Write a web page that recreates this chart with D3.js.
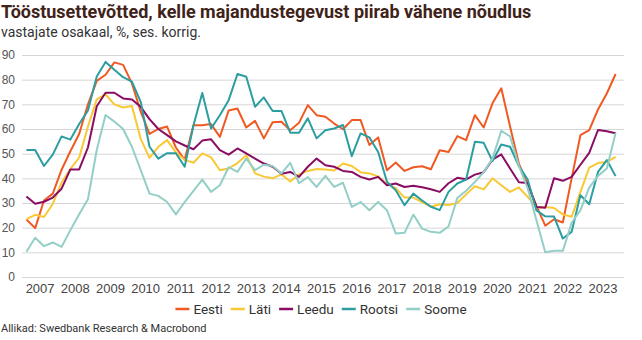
<!DOCTYPE html>
<html lang="et">
<head>
<meta charset="UTF-8">
<title>Tööstusettevõtted, kelle majandustegevust piirab vähene nõudlus</title>
<style>
  body { margin: 0; background: #fff; }
  svg { display: block; font-family: Roboto, "Noto Sans", sans-serif; }
  .grid line { stroke: #d6d6d6; stroke-width: 1; }
  .grid text { fill: #555; font-size: 12px; }
  .years text { fill: #444; font-size: 13px; }
  .series { fill: none; stroke-width: 2; stroke-linejoin: round; }
  .legend text { fill: #333; font-size: 13.5px; }
</style>
</head>
<body>
<svg id="chart" width="642" height="340"></svg>
<script src="https://d3js.org/d3.v7.min.js"></script>
<script>
// quarterly survey, 2007 Q1 .. 2023 Q4
const firstYear = 2007;
const years = [2007, 2008, 2009, 2010, 2011, 2012, 2013, 2014, 2015,
               2016, 2017, 2018, 2019, 2020, 2021, 2022, 2023];
const yTicks = [0, 10, 20, 30, 40, 50, 60, 70, 80, 90];

const eesti = [23.3, 19.8, 31, 33.8, 43.5, 51, 58, 70,
  79.5, 82, 87, 86, 78.5, 67, 58, 60,
  61, 52.5, 47.5, 61.5, 61.5, 62, 56.8, 67.5,
  68.3, 60.6, 63.3, 56.2, 62.7, 62.9, 59.5, 62.5,
  69.7, 65.6, 65, 62.2, 59.9, 63.6, 63.6, 53.5,
  56.6, 43.3, 46.4, 43, 44.5, 44.9, 43.7, 51.4,
  50.7, 57.1, 55.5, 65.6, 60.6, 70.4, 76.5, 61,
  46, 37.6, 28.8, 20.8, 23.4, 22.1, 40, 57.5,
  59.5, 67.9, 74.4, 82.3];

const lati = [23.5, 25.2, 24.3, 29.6, 38.3, 43.8, 48.4, 61,
  72, 74, 70, 68.7, 69.3, 56, 48.3, 52.8,
  55.5, 50.5, 47.5, 46.3, 50.1, 48.5, 43.3, 44,
  46.2, 49.4, 42, 40.7, 40, 41.6, 38.7, 41.6,
  43, 43.8, 43.6, 43.2, 46, 45, 42.5, 42,
  40.8, 37.6, 36, 32.2, 32.2, 30.4, 28.5, 29.5,
  29.2, 30, 33.5, 36.8, 35.5, 40, 37.2, 34.5,
  36.3, 32.5, 28.3, 28.4, 28, 25.4, 24.4, 34.5,
  44.3, 46.2, 46.6, 48.7];

const leedu = [32.6, 29.7, 30.5, 32.2, 35.8, 43.6, 43.6, 52.5,
  69.2, 74.7, 74.7, 72.4, 72, 69, 64, 60,
  57.5, 55, 53.3, 51.8, 55.3, 55.8, 51.4, 49.6,
  52.1, 50.1, 48, 46, 44.7, 41.9, 42.6, 40.6,
  44.7, 48, 45.3, 44.7, 43, 42.6, 40.6, 39.5,
  40.6, 37.2, 37.9, 36.5, 37, 36.4, 35.6, 34.5,
  38, 40.2, 39.6, 41.5, 42.5, 47.6, 49.7, 44,
  38.4, 38.1, 28.4, 28.1, 40, 39, 40.6, 45.5,
  50.3, 59.6, 59.1, 58.3];

const rootsi = [51.5, 51.5, 45, 49.6, 57, 55.7, 62, 67.5,
  81.3, 87.2, 84, 81, 79.2, 71, 52.8, 48,
  50.2, 50.2, 44.7, 61.5, 74.6, 60.2, 65.6, 71.7,
  82.3, 81.2, 69, 72.8, 67.3, 67.3, 58.5, 58.5,
  64.3, 56.2, 59.5, 60.2, 61.6, 49, 58.2, 56.6,
  50.7, 38.6, 35.2, 29.1, 33.8, 31, 28.5, 27.1,
  34.5, 37.9, 39.5, 54.8, 54.4, 47, 53.7, 52.8,
  45, 39.5, 27, 24.6, 24.5, 15.6, 18.3, 33.2,
  29.5, 42.6, 47.4, 40.9];

const soome = [10.2, 15.9, 12.5, 14, 12.2, 19, 25.4, 31.5,
  51.5, 65.7, 63, 60, 52.8, 43.3, 33.8, 32.9,
  30.4, 25.4, 30.4, 34.9, 39.5, 34.5, 37.2, 44.5,
  42.6, 48, 43.3, 45.5, 45, 42, 46.3, 38,
  40.5, 36.5, 41, 36.5, 38.2, 28.4, 30.4, 27.1,
  30.4, 27.1, 17.6, 17.9, 25.3, 19.6, 18.3, 17.9,
  20.5, 32, 35, 38.5, 42.5, 48, 59.3, 57,
  45, 36, 23, 10, 10.6, 10.6, 22, 27.1,
  36.2, 41, 44, 58.4];

const names = ["Eesti", "Läti", "Leedu", "Rootsi", "Soome"];
const colors = ["#f05a22", "#f9c835", "#8a0c63", "#2c9da0", "#93cfc6"];
const values = [eesti, lati, leedu, rootsi, soome];

const svg = d3.select("#chart");

const x = d3.scaleLinear().domain([firstYear, 2024]).range([22, 620]);
const y = d3.scaleLinear().domain([0, 90]).range([277, 55]);

// title + subtitle
svg.append("text")
  .attr("x", 1).attr("y", 18)
  .attr("fill", "#3f2319")
  .style("font-size", "18px").style("font-weight", "bold")
  .text("Tööstusettevõtted, kelle majandustegevust piirab vähene nõudlus");

svg.append("text")
  .attr("x", 1).attr("y", 37)
  .attr("fill", "#333")
  .style("font-size", "14px")
  .text("vastajate osakaal, %, ses. korrig.");

// horizontal gridlines with value labels
const gy = svg.append("g")
  .attr("class", "grid")
  .attr("transform", "translate(22,0)")
  .call(d3.axisLeft(y).tickValues(yTicks).tickSize(-602).tickPadding(7));
gy.select(".domain").remove();

// year labels in the middle of each year
const gx = svg.append("g")
  .attr("class", "years")
  .attr("transform", "translate(0,277)")
  .call(d3.axisBottom(x)
    .tickValues(years.map(d => d + 0.5))
    .tickFormat(d => Math.floor(d))
    .tickSize(0).tickPadding(7));
gx.select(".domain").remove();

// one point per quarter, at the middle of the quarter
const qx = i => x(firstYear + i / 4 + 0.125);
const line = d3.line().x((d, i) => qx(i)).y(d => y(d));

svg.append("g").selectAll("path")
  .data(values)
  .join("path")
  .attr("class", "series")
  .attr("stroke", (d, i) => colors[i])
  .attr("d", line);

// legend, centred under the plot
const legend = svg.append("g").attr("class", "legend");
const items = legend.selectAll("g").data(names).join("g");
items.append("line")
  .attr("x1", 0).attr("x2", 14).attr("y1", 0).attr("y2", 0)
  .attr("stroke", (d, i) => colors[i]).attr("stroke-width", 2.5);
items.append("text")
  .attr("x", 18).attr("dy", "0.35em")
  .text(d => d);

let offset = 0;
items.each(function () {
  const w = 18 + d3.select(this).select("text").node().getComputedTextLength();
  d3.select(this).attr("transform", `translate(${offset},0)`);
  offset += w + 8;
});
const legendWidth = offset - 8;
legend.attr("transform", `translate(${321 - legendWidth / 2},309)`);

svg.append("text")
  .attr("x", 1).attr("y", 332)
  .attr("fill", "#333")
  .style("font-size", "11px")
  .text("Allikad: Swedbank Research & Macrobond");
</script>
</body>
</html>
